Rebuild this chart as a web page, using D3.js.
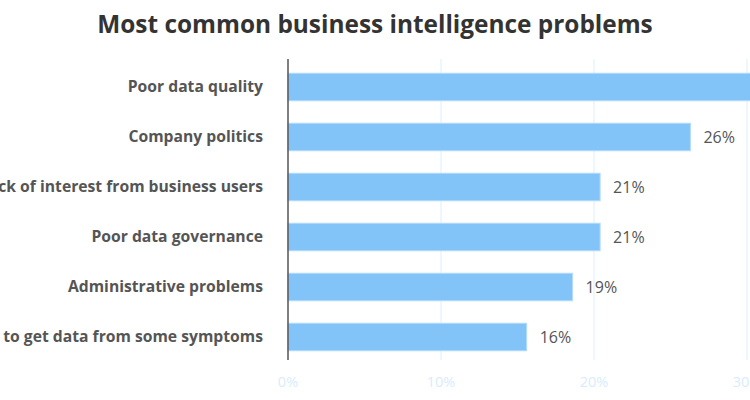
<!DOCTYPE html>
<html>
<head>
<meta charset="utf-8">
<script src="https://cdn.jsdelivr.net/npm/d3@7"></script>
<style>
  html, body { margin: 0; padding: 0; background: #fff; overflow: hidden; }
  svg { display: block; font-family: "Open Sans", "Noto Sans", sans-serif; }
</style>
</head>
<body>
<svg id="chart" width="750" height="400"></svg>
<script>
const title = "Most common business intelligence problems";
const categories = [
  "Poor data quality",
  "Company politics",
  "Lack of interest from business users",
  "Poor data governance",
  "Administrative problems",
  "Unable to get data from some symptoms"
];
const values = [34, 26.3, 20.4, 20.4, 18.6, 15.6];
const valueLabels = ["34%", "26%", "21%", "21%", "19%", "16%"];
const tickValues = [0, 10, 20, 30, 40];

const svg = d3.select("#chart");

const x = d3.scaleLinear().domain([0, 40]).range([288, 900]);
const y = d3.scaleBand().domain(categories).range([62, 362])
  .paddingInner(0.45).paddingOuter(0.225);

// gridlines
svg.append("g").selectAll("line").data(tickValues.filter(d => d > 0)).join("line")
  .attr("x1", d => x(d)).attr("x2", d => x(d))
  .attr("y1", 59).attr("y2", 360)
  .attr("stroke", "#eaf5fe").attr("stroke-width", 1.5);

// bars
svg.append("g").selectAll("rect").data(values).join("rect")
  .attr("x", x(0))
  .attr("y", (d, i) => y(categories[i]))
  .attr("width", d => x(d) - x(0))
  .attr("height", y.bandwidth())
  .attr("fill", "#82c4f8")
  .attr("stroke", "#b3dafb").attr("stroke-width", 1);

// value labels
svg.append("g").selectAll("text").data(values).join("text")
  .attr("x", d => x(d) + 13)
  .attr("y", (d, i) => y(categories[i]) + y.bandwidth() / 2)
  .attr("dy", "0.35em")
  .attr("font-size", 16)
  .attr("fill", "#555")
  .text((d, i) => valueLabels[i]);

// y axis line
svg.append("line")
  .attr("x1", x(0)).attr("x2", x(0)).attr("y1", 59).attr("y2", 360)
  .attr("stroke", "#555").attr("stroke-width", 1.5);

// category labels
svg.append("g").selectAll("text").data(categories).join("text")
  .attr("x", 263)
  .attr("y", d => y(d) + y.bandwidth() / 2)
  .attr("dy", "0.35em")
  .attr("text-anchor", "end")
  .attr("font-size", 15.7)
  .attr("font-weight", 700)
  .attr("fill", "#555")
  .text(d => d);

// x tick labels
svg.append("g").selectAll("text").data(tickValues).join("text")
  .attr("x", d => x(d))
  .attr("y", 382)
  .attr("dy", "0.35em")
  .attr("text-anchor", "middle")
  .attr("font-size", 14.5)
  .attr("fill", "#d9ecfd")
  .text(d => d + "%");

// title
svg.append("text")
  .attr("x", 375).attr("y", 33)
  .attr("text-anchor", "middle")
  .attr("font-size", 24.4)
  .attr("font-weight", 700)
  .attr("fill", "#333")
  .text(title);
</script>
</body>
</html>
